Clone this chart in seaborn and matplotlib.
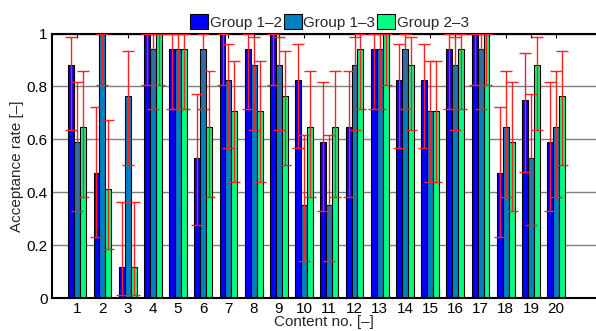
import matplotlib
matplotlib.use("Agg")
import matplotlib.pyplot as plt
import seaborn as sns
import pandas as pd
import numpy as np

contents = [str(i) for i in range(1, 21)]
groups = ["Group 1–2", "Group 1–3", "Group 2–3"]

g12 = [0.882, 0.471, 0.118, 1.0, 0.941, 0.529, 1.0, 0.941, 1.0, 0.824,
       0.588, 0.647, 0.941, 0.824, 0.824, 0.941, 1.0, 0.471, 0.75, 0.588]
g13 = [0.588, 1.0, 0.765, 0.941, 0.941, 0.941, 0.824, 0.882, 0.882, 0.353,
       0.353, 0.882, 0.941, 0.941, 0.706, 0.882, 0.941, 0.647, 0.529, 0.647]
g23 = [0.647, 0.412, 0.118, 1.0, 0.941, 0.647, 0.706, 0.706, 0.765, 0.647,
       0.647, 0.941, 1.0, 0.882, 0.706, 0.941, 1.0, 0.588, 0.882, 0.765]

g12_lo = [0.637, 0.230, 0.013, 0.805, 0.714, 0.277, 0.805, 0.714, 0.805, 0.567,
          0.329, 0.382, 0.714, 0.567, 0.567, 0.714, 0.805, 0.230, 0.477, 0.329]
g12_hi = [0.987, 0.723, 0.362, 1.0, 1.0, 0.770, 1.0, 1.0, 1.0, 0.962,
          0.817, 0.857, 1.0, 0.962, 0.962, 1.0, 1.0, 0.723, 0.927, 0.817]
g13_lo = [0.329, 0.805, 0.501, 0.714, 0.714, 0.714, 0.567, 0.637, 0.637, 0.141,
          0.141, 0.637, 0.714, 0.714, 0.440, 0.637, 0.714, 0.382, 0.277, 0.382]
g13_hi = [0.817, 1.0, 0.932, 1.0, 1.0, 1.0, 0.962, 0.987, 0.987, 0.617,
          0.617, 0.987, 1.0, 1.0, 0.897, 0.987, 1.0, 0.857, 0.770, 0.857]
g23_lo = [0.382, 0.184, 0.013, 0.805, 0.714, 0.382, 0.440, 0.440, 0.501, 0.382,
          0.382, 0.714, 0.805, 0.637, 0.440, 0.714, 0.805, 0.329, 0.637, 0.501]
g23_hi = [0.857, 0.672, 0.362, 1.0, 1.0, 0.857, 0.897, 0.897, 0.932, 0.857,
          0.857, 1.0, 1.0, 0.987, 0.897, 1.0, 1.0, 0.817, 0.987, 0.932]

colors = ["#0000FF", "#0080C0", "#00FF80"]

values = [g12, g13, g23]
lows = [g12_lo, g13_lo, g23_lo]
highs = [g12_hi, g13_hi, g23_hi]

df = pd.DataFrame({
    "content": contents * 3,
    "group": [g for g in groups for _ in contents],
    "rate": g12 + g13 + g23,
})

sns.set_style("white")
plt.rcParams['font.family'] = ['Liberation Sans', 'DejaVu Sans']

fig = plt.figure(figsize=(5.96, 3.31), dpi=100)
ax = fig.add_axes([52/596, 1 - 298/331, 1 - 52/596, (298 - 33.5)/331])

sns.barplot(data=df, x="content", y="rate", hue="group", order=contents,
            hue_order=groups, palette=colors, width=0.705, gap=0,
            edgecolor="black", linewidth=0.8, saturation=1, errorbar=None,
            ax=ax, zorder=2)

for cont, v, lo, hi in zip(ax.containers, values, lows, highs):
    xs = [b.get_x() + b.get_width() / 2 for b in cont]
    v = np.array(v); lo = np.array(lo); hi = np.array(hi)
    ax.errorbar(xs, v, yerr=[v - lo, hi - v], fmt="none", ecolor="#FF2020",
                elinewidth=1.0, capsize=4, capthick=1.0, zorder=3)

ax.set_ylim(0, 1)
ax.set_xlim(-1.0, 20.58)
ax.set_yticks([0, 0.2, 0.4, 0.6, 0.8, 1])
ax.set_yticklabels(["0", "0.2", "0.4", "0.6", "0.8", "1"])
ax.yaxis.grid(True, color="#7f7f7f", linewidth=1.0, zorder=0)
ax.set_axisbelow(True)
ax.tick_params(axis="both", labelsize=11, colors="black", direction="in",
               length=3, top=True, bottom=False, left=False)
ax.tick_params(axis="x", pad=3)
ax.tick_params(axis="y", pad=3)
for s in ["left", "bottom", "top"]:
    ax.spines[s].set_color("black")
    ax.spines[s].set_linewidth(1.5)
ax.spines["right"].set_visible(False)

ax.set_xlabel("Content no. [–]", fontsize=11, labelpad=-1)
ax.set_ylabel("Acceptance rate [–]", fontsize=11, labelpad=2)

ax.legend(ncol=3, loc="lower center", bbox_to_anchor=(0.51, 1.0), frameon=False,
          fontsize=11, handlelength=1.2, handleheight=1.2, handletextpad=0.1,
          columnspacing=0.1, borderpad=0.1, borderaxespad=0.15, title=None)

fig.savefig("out.png", dpi=100)
